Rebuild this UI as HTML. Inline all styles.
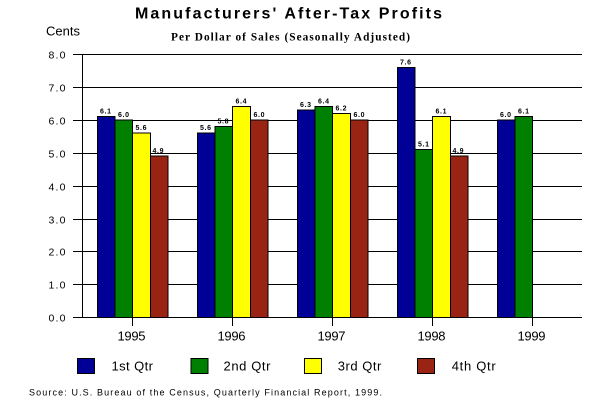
<!DOCTYPE html>
<html><head><meta charset="utf-8"><style>
html,body{margin:0;padding:0;background:#fff;}
svg{display:block;}
text{font-family:"Liberation Sans",Arial,sans-serif;fill:#000;}
</style></head><body>
<svg width="600" height="400" viewBox="0 0 600 400" xmlns="http://www.w3.org/2000/svg">
<rect width="600" height="400" fill="#fff"/>
<text x="135" y="18.5" font-size="16" font-weight="bold" textLength="307" lengthAdjust="spacing">Manufacturers' After-Tax Profits</text>
<text x="171" y="40.7" font-size="11.3" font-weight="bold" style="font-family:'Liberation Serif',serif" textLength="239" lengthAdjust="spacing">Per Dollar of Sales (Seasonally Adjusted)</text>
<text x="46" y="35.5" font-size="13" textLength="34" lengthAdjust="spacing">Cents</text>
<g shape-rendering="crispEdges" stroke="#000" stroke-width="1">
<line x1="73" y1="54.5" x2="582" y2="54.5"/>
<line x1="73" y1="87.5" x2="582" y2="87.5"/>
<line x1="73" y1="120.5" x2="582" y2="120.5"/>
<line x1="73" y1="153.5" x2="582" y2="153.5"/>
<line x1="73" y1="186.5" x2="582" y2="186.5"/>
<line x1="73" y1="219.5" x2="582" y2="219.5"/>
<line x1="73" y1="251.5" x2="582" y2="251.5"/>
<line x1="73" y1="284.5" x2="582" y2="284.5"/>
<line x1="82.5" y1="54" x2="82.5" y2="317"/>
</g>
<g font-size="10.5" text-anchor="end">
<text x="65.5" y="58.3" textLength="17" lengthAdjust="spacing">8.0</text>
<text x="65.5" y="91.3" textLength="17" lengthAdjust="spacing">7.0</text>
<text x="65.5" y="124.3" textLength="17" lengthAdjust="spacing">6.0</text>
<text x="65.5" y="157.3" textLength="17" lengthAdjust="spacing">5.0</text>
<text x="65.5" y="190.3" textLength="17" lengthAdjust="spacing">4.0</text>
<text x="65.5" y="223.3" textLength="17" lengthAdjust="spacing">3.0</text>
<text x="65.5" y="255.3" textLength="17" lengthAdjust="spacing">2.0</text>
<text x="65.5" y="288.3" textLength="17" lengthAdjust="spacing">1.0</text>
<text x="65.5" y="321.3" textLength="17" lengthAdjust="spacing">0.0</text>
</g>
<g stroke="#000" stroke-width="1" shape-rendering="crispEdges">
<!-- 1995 -->
<rect x="97.5" y="116.6" width="17.6" height="200.7" fill="#000096"/>
<rect x="115.1" y="119.9" width="17.6" height="197.4" fill="#008000"/>
<rect x="132.7" y="133.1" width="17.6" height="184.2" fill="#ffff00"/>
<rect x="150.3" y="156.1" width="17.6" height="161.2" fill="#9a2414"/>
<!-- 1996 -->
<rect x="197.5" y="133.1" width="17.6" height="184.2" fill="#000096"/>
<rect x="215.1" y="126.5" width="17.6" height="190.8" fill="#008000"/>
<rect x="232.7" y="106.7" width="17.6" height="210.6" fill="#ffff00"/>
<rect x="250.3" y="119.9" width="17.6" height="197.4" fill="#9a2414"/>
<!-- 1997 -->
<rect x="297.5" y="110.0" width="17.6" height="207.3" fill="#000096"/>
<rect x="315.1" y="106.7" width="17.6" height="210.6" fill="#008000"/>
<rect x="332.7" y="113.3" width="17.6" height="204.0" fill="#ffff00"/>
<rect x="350.3" y="119.9" width="17.6" height="197.4" fill="#9a2414"/>
<!-- 1998 -->
<rect x="397.5" y="67.3" width="17.6" height="250.0" fill="#000096"/>
<rect x="415.1" y="149.5" width="17.6" height="167.8" fill="#008000"/>
<rect x="432.7" y="116.6" width="17.6" height="200.7" fill="#ffff00"/>
<rect x="450.3" y="156.1" width="17.6" height="161.2" fill="#9a2414"/>
<!-- 1999 -->
<rect x="497.5" y="119.9" width="17.6" height="197.4" fill="#000096"/>
<rect x="515.1" y="116.6" width="17.6" height="200.7" fill="#008000"/>
</g>
<g shape-rendering="crispEdges" stroke="#000" stroke-width="1">
<line x1="73" y1="317.5" x2="582" y2="317.5"/>
<line x1="132.5" y1="317" x2="132.5" y2="326"/>
<line x1="232.5" y1="317" x2="232.5" y2="326"/>
<line x1="332.5" y1="317" x2="332.5" y2="326"/>
<line x1="432.5" y1="317" x2="432.5" y2="326"/>
<line x1="532.5" y1="317" x2="532.5" y2="326"/>
</g>
<g font-size="7" font-weight="bold" text-anchor="middle">
<text x="105.5" y="113.6" textLength="11" lengthAdjust="spacing">6.1</text>
<text x="123.5" y="116.9" textLength="11" lengthAdjust="spacing">6.0</text>
<text x="141" y="130.1" textLength="11" lengthAdjust="spacing">5.6</text>
<text x="158" y="153.1" textLength="11" lengthAdjust="spacing">4.9</text>
<text x="205.5" y="130.1" textLength="11" lengthAdjust="spacing">5.6</text>
<text x="223" y="123.5" textLength="11" lengthAdjust="spacing">5.8</text>
<text x="241" y="103.7" textLength="11" lengthAdjust="spacing">6.4</text>
<text x="259" y="116.9" textLength="11" lengthAdjust="spacing">6.0</text>
<text x="305.5" y="107" textLength="11" lengthAdjust="spacing">6.3</text>
<text x="323.5" y="103.7" textLength="11" lengthAdjust="spacing">6.4</text>
<text x="341" y="110.3" textLength="11" lengthAdjust="spacing">6.2</text>
<text x="359" y="116.9" textLength="11" lengthAdjust="spacing">6.0</text>
<text x="405.5" y="64.3" textLength="11" lengthAdjust="spacing">7.6</text>
<text x="423.5" y="146.5" textLength="11" lengthAdjust="spacing">5.1</text>
<text x="441" y="113.6" textLength="11" lengthAdjust="spacing">6.1</text>
<text x="458" y="153.1" textLength="11" lengthAdjust="spacing">4.9</text>
<text x="505.5" y="116.9" textLength="11" lengthAdjust="spacing">6.0</text>
<text x="523.5" y="113.6" textLength="11" lengthAdjust="spacing">6.1</text>
</g>
<g font-size="13" text-anchor="middle">
<text x="131.5" y="340.5" textLength="28" lengthAdjust="spacing">1995</text>
<text x="231.5" y="340.5" textLength="28" lengthAdjust="spacing">1996</text>
<text x="331.5" y="340.5" textLength="28" lengthAdjust="spacing">1997</text>
<text x="431.5" y="340.5" textLength="28" lengthAdjust="spacing">1998</text>
<text x="531.5" y="340.5" textLength="28" lengthAdjust="spacing">1999</text>
</g>
<g stroke="#000" stroke-width="1" shape-rendering="crispEdges">
<rect x="77.5" y="358.5" width="17" height="15" fill="#000096"/>
<rect x="191" y="358.5" width="17" height="15" fill="#008000"/>
<rect x="304.5" y="358.5" width="17" height="15" fill="#ffff00"/>
<rect x="417.5" y="358.5" width="17" height="15" fill="#9a2414"/>
</g>
<g font-size="13">
<text x="111.5" y="370.3" textLength="41.5" lengthAdjust="spacing">1st Qtr</text>
<text x="223.5" y="370.3" textLength="47" lengthAdjust="spacing">2nd Qtr</text>
<text x="337.8" y="370.3" textLength="43.5" lengthAdjust="spacing">3rd Qtr</text>
<text x="451.7" y="370.3" textLength="44" lengthAdjust="spacing">4th Qtr</text>
</g>
<text x="29" y="395.7" font-size="9" textLength="353" lengthAdjust="spacing">Source: U.S. Bureau of the Census, Quarterly Financial Report, 1999.</text>
</svg>
</body></html>
